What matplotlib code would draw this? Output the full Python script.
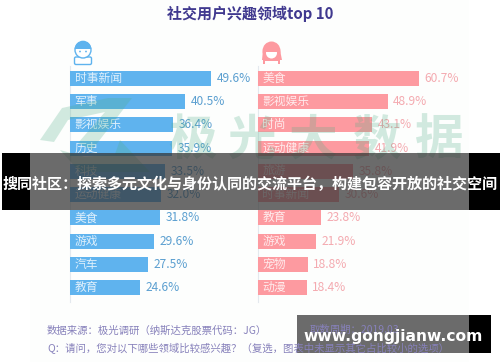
import matplotlib
matplotlib.use("Agg")
import matplotlib.pyplot as plt
from matplotlib.patches import Circle, Ellipse, FancyBboxPatch, Polygon, Rectangle, Wedge

plt.rcParams["font.family"] = ["Noto Sans CJK SC", "DejaVu Sans"]

W, H = 500, 362

male_labels = ["时事新闻", "军事", "影视娱乐", "历史", "科技", "运动健康", "美食", "游戏", "汽车", "教育"]
male_values = [49.6, 40.5, 36.4, 35.9, 33.5, 32.0, 31.8, 29.6, 27.5, 24.6]
female_labels = ["美食", "影视娱乐", "时尚", "运动健康", "旅游", "时事新闻", "教育", "游戏", "宠物", "动漫"]
female_values = [60.7, 48.9, 43.1, 41.9, 35.8, 30.6, 23.8, 21.9, 18.8, 18.4]
watermark_chars = ["极", "光", "大", "数", "据"]
watermark_x = [192, 252, 312, 377, 438]

BLUE = "#5fb3ee"
BLUE_TEXT = "#5b9fd0"
PINK = "#fd9aa0"
PINK_TEXT = "#f4aab0"
PURPLE = "#40398f"
NOTE = "#8781bb"
GREEN = "#4fae86"


def px_axes(fig, x0, y0, x1, y1):
    # pixel box with y measured from the top of the image
    return fig.add_axes([x0 / W, 1 - y1 / H, (x1 - x0) / W, (y1 - y0) / H])


def layer(fig, zorder):
    ax = fig.add_axes([0, 0, 1, 1], zorder=zorder)
    ax.set_xlim(0, W)
    ax.set_ylim(H, 0)
    ax.axis("off")
    return ax


def draw_bars(ax, labels, values, color, text_color, gap):
    ys = range(len(values))
    ax.barh(ys, values, height=0.64, color=color, zorder=2)
    for y, label, value in zip(ys, labels, values):
        ax.text(1.6, y, label, color="white", fontsize=8.5, va="center", ha="left", alpha=0.8, zorder=3)
        ax.text(value + gap, y, f"{value}%", color=text_color, fontsize=8.6, va="center", ha="left", zorder=3)
    ax.set_ylim(len(values) - 0.5, -0.5)
    ax.axis("off")


fig = plt.figure(figsize=(W / 100, H / 100), dpi=100, facecolor="white")

bg = layer(fig, 0)
bg.add_patch(Rectangle((30, 0), 439, H, color="#fdfefd", lw=0))
bg.plot([70, 70], [66, 302], color="#e4e9ee", lw=0.8)
bg.plot([258, 258], [66, 302], color="#e4e9ee", lw=0.8)

# male icon
bg.add_patch(FancyBboxPatch((76, 58.5), 14, 4.5, boxstyle="round,pad=1.5", fc="white", ec=BLUE, lw=1))
bg.add_patch(Circle((83, 50), 8, fc="white", ec=BLUE, lw=1))
bg.add_patch(Wedge((83, 49), 8.3, 180, 360, color=BLUE, lw=0))
bg.add_patch(Circle((80, 51.5), 0.9, color=BLUE, lw=0))
bg.add_patch(Circle((86, 51.5), 0.9, color=BLUE, lw=0))

# female icon
bg.add_patch(Ellipse((271.5, 51), 18, 19, color=PINK, lw=0))
bg.add_patch(Polygon([(263, 50), (280, 50), (282, 60), (262, 60)], color=PINK, lw=0))
bg.add_patch(Rectangle((263, 58), 17, 6, color=PINK, lw=0))
bg.add_patch(Circle((271.5, 53), 5.5, color="white", lw=0))
bg.add_patch(Wedge((271.5, 52), 5.8, 180, 360, color=PINK, lw=0))
bg.add_patch(Rectangle((265, 60.5), 13, 3, color="white", lw=0))

# bars, one axes per gender, each with its own scale
ax_m = px_axes(fig, 70, 66.5, 211, 299.5)
ax_m.set_zorder(1)
ax_m.set_xlim(0, 49.6)
draw_bars(ax_m, male_labels, male_values, BLUE, BLUE_TEXT, 1.9)

ax_f = px_axes(fig, 258, 66.5, 419, 299.5)
ax_f.set_zorder(1)
ax_f.set_xlim(0, 60.7)
draw_bars(ax_f, female_labels, female_values, PINK, PINK_TEXT, 2.0)

# watermark sits over the bars
wm = layer(fig, 2)
wm.add_patch(Polygon([(40, 140), (62, 108), (108, 98), (132, 98), (92, 150), (78, 143), (105, 112), (68, 120), (54, 142)],
                     color=GREEN, lw=0, alpha=0.25))
wm.add_patch(Polygon([(60, 150), (80, 172), (150, 172), (120, 140), (115, 154), (85, 157)], color=GREEN, lw=0, alpha=0.25))
for x, ch in zip(watermark_x, watermark_chars):
    wm.text(x, 140, ch, color=GREEN, alpha=0.25, fontsize=35, ha="center", va="center", fontweight="bold")

# title, notes and the overlaid banners
top = layer(fig, 3)
top.text(250, 14, "社交用户兴趣领域top 10", color=PURPLE, fontsize=10.8, fontweight="bold", ha="center", va="center")
top.text(47, 331, "数据来源：极光调研（纳斯达克股票代码：JG）", color=NOTE, fontsize=7.5, ha="left", va="center", style="italic")
top.text(47, 349, "Q：请问，您对以下哪些领域比较感兴趣？（复选，图表中未显示其它占比较小的选项）", color=NOTE, fontsize=7.5,
         ha="left", va="center", style="italic")
top.text(310, 330, "取数周期：2019.03", color=NOTE, fontsize=7.5, ha="left", va="center")

top.add_patch(Rectangle((30, 153), 439, 57, color="#333333", alpha=0.72, lw=0))
top.add_patch(Rectangle((2, 153), 28, 57, color="black", lw=0))
top.add_patch(Rectangle((469, 153), 31, 57, color="black", lw=0))
top.text(250, 184, "搜同社区：探索多元文化与身份认同的交流平台，构建包容开放的社交空间", color="white", fontsize=10.85,
         fontweight="bold", ha="center", va="center")

top.add_patch(Rectangle((297, 315), 172, 38, color="#333333", alpha=0.72, lw=0))
top.add_patch(Rectangle((469, 315), 22, 38, color="black", lw=0))
top.text(393, 337, "www.gongjianw.com", color="white", fontsize=11.2, fontweight="bold", ha="center", va="center",
         family="DejaVu Sans")

fig.savefig("out.png", dpi=100)
